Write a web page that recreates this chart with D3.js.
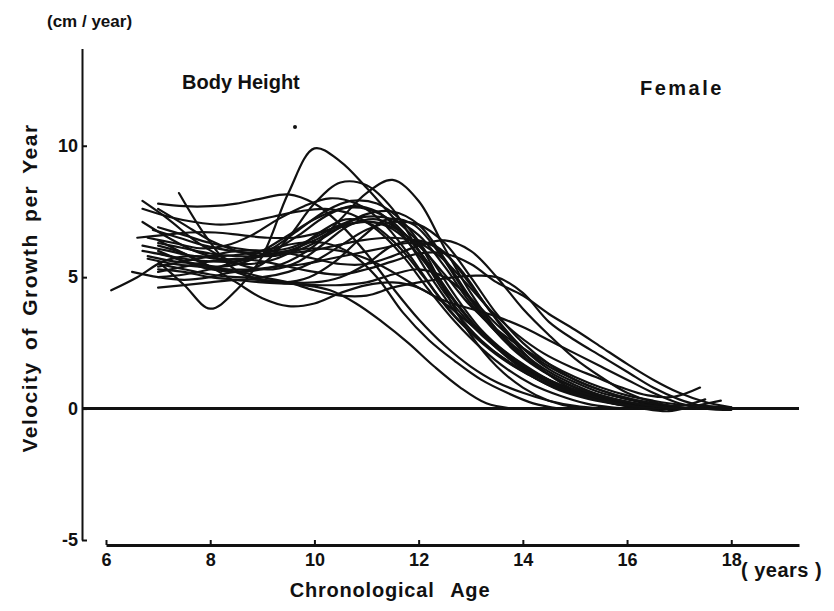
<!DOCTYPE html>
<html lang="en">
<head>
<meta charset="UTF-8">
<title>Body Height velocity - Female</title>
<style>
  body { margin: 0; background: #fff; }
  svg { display: block; }
  .lbl { font-family: "Liberation Sans", Arial, sans-serif; font-weight: bold; fill: #111; }
  .axis text { font-family: "Liberation Sans", Arial, sans-serif; font-weight: bold; font-size: 18px; fill: #111; }
  .axis path, .axis line { stroke: #111; }
  .girl { fill: none; stroke: #111; stroke-width: 2.2px; stroke-linejoin: round; stroke-linecap: round; }
</style>
<script src="https://d3js.org/d3.v7.min.js"></script>
</head>
<body>
<svg id="chart"></svg>
<script>
// tick labels
var xTicks = [6, 8, 10, 12, 14, 16, 18];
var yTicks = [10, 5, 0, -5];

// velocity (cm/year) per girl, one value every half year from its start age
var startAge = [7.0, 7.0, 7.0, 7.0, 6.5, 7.0, 6.8, 6.1, 6.7, 7.4, 6.7, 6.6, 6.7, 7.0,
                7.0, 7.0, 7.0, 6.9, 7.0, 6.7, 7.0, 7.0, 6.7, 7.0, 6.8, 6.8, 7.0, 7.0];
var g01 = [5.6,4.7,3.8,4.5,5.8,8.2,9.9,9.4,8.4,7.3,6.3,4.5,2.8,1.6,0.8,0.3,0.05,0.0];
var g02 = [6.4,5.9,5.4,5.2,5.5,6.5,7.8,8.6,8.5,7.6,6.0,4.4,3.2,2.3,1.6,1.0,0.6,0.3,0.1,0.0];
var g03 = [6.0,5.6,5.3,5.2,5.3,5.6,6.2,7.2,8.2,8.7,7.9,6.1,4.4,3.0,2.0,1.3,0.8,0.5,0.25,0.1,0.0];
var g04 = [7.8,7.7,7.7,7.8,8.0,8.15,7.8,7.0,5.9,4.6,3.4,2.4,1.6,1.0,0.6,0.3,0.1,0.0];
var g05 = [5.2,5.0,4.9,5.0,5.2,5.0,4.8,4.5,4.3,4.3,4.6,4.8,4.95,5.05,5.0,4.4,3.3,2.6,2.0,1.4,0.8,0.35,0.05];
var g06 = [6.2,5.9,5.4,4.8,4.2,3.9,4.0,4.4,4.7,4.8,4.6,4.0,3.2,2.4,1.7,1.1,0.7,0.4,0.2,0.05,0.0];
var g07 = [5.8,5.6,5.5,5.3,5.0,4.8,4.7,4.5,4.0,3.3,2.5,1.6,0.8,0.2,0.0];
var g08 = [4.5,5.0,5.6,5.8,5.7,5.5,5.6,6.0,6.7,7.2,7.0,6.2,5.0,3.7,2.7,1.9,1.3,0.8,0.5,0.3,0.1,0.0];
var g09 = [7.9,7.2,6.4,5.8,5.4,5.3,5.6,6.3,7.0,7.2,6.7,5.5,4.1,2.9,2.0,1.3,0.8,0.5,0.3,0.1,0.0];
var g10 = [8.2,6.6,5.4,4.9,4.8,5.0,5.6,6.5,7.2,7.0,5.9,4.4,3.1,2.1,1.4,0.9,0.5,0.3,0.1,0.0];
var g11 = [7.1,6.5,6.0,5.7,5.7,6.0,6.6,7.3,7.7,7.5,6.6,5.1,3.7,2.6,1.8,1.2,0.7,0.4,0.2,0.05,0.0];
var g12 = [6.5,6.6,6.7,6.7,6.6,6.5,6.5,6.7,7.0,7.1,6.7,5.6,4.3,3.1,2.2,1.5,1.0,0.6,0.35,0.15,0.05,0.0];
var g13 = [6.0,5.8,5.5,5.4,5.6,6.1,6.8,7.5,7.9,7.8,7.1,5.8,4.3,3.0,2.1,1.4,0.9,0.6,0.35,0.15,0.0];
var g14 = [4.6,4.7,4.8,4.9,4.9,4.8,4.8,5.0,5.5,6.2,6.4,5.9,4.7,3.4,2.3,1.5,1.0,0.6,0.35,0.15,0.0];
var g15 = [5.0,5.1,5.3,5.6,6.0,6.6,7.2,7.6,7.6,7.1,6.0,4.6,3.3,2.3,1.5,1.0,0.6,0.3,0.1,0.0];
var g16 = [5.5,5.3,5.1,5.0,5.0,5.2,5.6,6.2,6.8,7.1,7.0,6.3,5.0,3.6,2.5,1.7,1.1,0.7,0.4,0.2,0.05,0.0];
var g17 = [5.2,5.4,5.6,5.7,5.6,5.4,5.2,5.1,5.3,5.6,5.9,5.9,5.5,4.8,4.3,3.6,3.0,2.35,1.7,1.1,0.6,0.25,0.05];
var g18 = [6.8,6.5,6.2,6.0,5.9,5.9,6.0,6.2,6.4,6.5,6.4,5.8,4.8,3.7,2.8,2.1,1.6,1.2,0.8,0.5,0.45,0.8];
var g19 = [5.9,5.7,5.6,5.6,5.8,6.0,6.1,6.0,5.7,5.2,4.6,4.1,3.8,3.5,3.1,2.6,2.1,1.6,1.1,0.6,0.2,0.0,-0.05];
var g20 = [7.6,7.3,7.1,7.0,7.1,7.3,7.5,7.6,7.4,6.8,5.8,4.5,3.3,2.3,1.5,0.9,0.5,0.2,0.05,0.0];
var g21 = [7.6,7.0,6.4,6.0,5.8,5.9,6.3,6.9,7.4,7.5,7.0,5.7,4.2,3.0,2.1,1.4,0.9,0.5,0.25,0.1,0.0];
var g22 = [5.3,5.2,5.0,4.9,4.8,4.75,4.7,4.7,4.8,5.1,5.3,5.0,4.2,3.2,2.3,1.6,1.1,0.7,0.4,0.2,0.05,0.0];
var g23 = [6.2,6.0,5.8,5.8,5.9,6.1,6.3,6.3,5.9,5.0,3.65,2.6,1.8,1.1,0.6,0.2,0.0];
var g24 = [6.3,6.1,5.9,5.8,5.8,6.0,6.4,6.9,7.1,6.9,6.2,5.1,3.9,3.0,2.3,1.7,1.2,0.8,0.5,0.3,0.15,0.1,0.05];
var g25 = [5.7,5.5,5.4,5.3,5.3,5.4,5.5,5.7,5.9,6.1,6.3,6.2,5.3,3.9,2.6,1.6,0.9,0.5,0.2,0.0,-0.1,0.1,0.3];
var g26 = [6.5,6.3,6.1,6.2,6.6,7.2,7.7,8.0,7.8,7.1,5.9,4.5,3.3,2.4,1.7,1.1,0.7,0.4,0.2,0.05,0.0];
var g27 = [6.9,6.6,6.3,6.1,6.0,6.1,6.5,7.0,7.3,7.2,6.6,5.4,4.0,2.9,2.0,1.3,0.8,0.5,0.25,0.1,0.0];
var g28 = [5.4,5.6,5.8,6.0,6.0,5.9,5.7,5.5,5.5,5.8,6.2,6.4,6.0,5.0,3.8,2.8,1.9,1.2,0.6,0.25,0.1,0.35];
var girls = [g01,g02,g03,g04,g05,g06,g07,g08,g09,g10,g11,g12,g13,g14,
             g15,g16,g17,g18,g19,g20,g21,g22,g23,g24,g25,g26,g27,g28];

var width = 834, height = 611;
var svg = d3.select('#chart').attr('width', width).attr('height', height);

var x = d3.scaleLinear().domain([6, 19.3]).range([106, 799]);
var y = d3.scaleLinear().domain([-5, 13.7]).range([540, 48.5]);

// y axis: labels left, ticks pointing right
var yAxis = d3.axisLeft(y).tickValues(yTicks).tickSize(-5).tickSizeOuter(0).tickPadding(4)
  .tickFormat(function(d){ return String(d); });
svg.append('g').attr('class', 'axis y')
  .attr('transform', 'translate(82,0)')
  .call(yAxis)
  .call(function(g){ g.select('.domain').attr('stroke-width', 2); g.selectAll('line').attr('stroke-width', 2); });

// x axis at bottom, ticks pointing up
var xAxis = d3.axisBottom(x).tickValues(xTicks).tickSize(-5).tickSizeOuter(0).tickPadding(8);
svg.append('g').attr('class', 'axis x')
  .attr('transform', 'translate(0,545)')
  .call(xAxis)
  .call(function(g){ g.select('.domain').attr('stroke-width', 3); g.selectAll('line').attr('stroke-width', 2); });

// zero line
svg.append('line')
  .attr('x1', 82).attr('x2', x(19.3))
  .attr('y1', y(0)).attr('y2', y(0))
  .attr('stroke', '#111').attr('stroke-width', 3);

// curves
var line = d3.line()
  .x(function(d){ return x(d[0]); })
  .y(function(d){ return y(d[1]); })
  .curve(d3.curveCatmullRom.alpha(0.5));

var g = svg.append('g');
girls.forEach(function(vals, i) {
  var pts = vals.map(function(v, k){ return [startAge[i] + k * 0.5, v]; });
  g.append('path').datum(pts).attr('class', 'girl').attr('d', line);
});

// texts
svg.append('text').attr('class', 'lbl').attr('x', 47).attr('y', 27)
  .style('font-size', '17px').text('(cm / year)');
svg.append('text').attr('class', 'lbl').attr('x', 182).attr('y', 89)
  .style('font-size', '20px').text('Body Height');
svg.append('text').attr('class', 'lbl').attr('x', 640).attr('y', 95)
  .style('font-size', '20px').style('letter-spacing', '2.5px').text('Female');
svg.append('text').attr('class', 'lbl').attr('x', 741).attr('y', 577)
  .style('font-size', '20px').style('letter-spacing', '0.5px').text('( years )');
svg.append('text').attr('class', 'lbl').attr('x', 390).attr('y', 597)
  .attr('text-anchor', 'middle').style('font-size', '20px')
  .style('letter-spacing', '0.8px').style('word-spacing', '10px')
  .text('Chronological Age');
svg.append('text').attr('class', 'lbl')
  .attr('transform', 'translate(37,288) rotate(-90)')
  .attr('text-anchor', 'middle').style('font-size', '21px')
  .style('letter-spacing', '1.5px').style('word-spacing', '4px')
  .text('Velocity of Growth per Year');

// stray dot of the print
svg.append('circle').attr('cx', 295).attr('cy', 127).attr('r', 2).attr('fill', '#111');
</script>
</body>
</html>
